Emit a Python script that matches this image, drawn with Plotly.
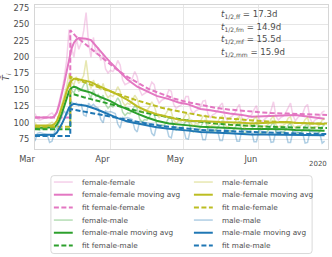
import numpy as np
import pandas as pd
import plotly.graph_objects as go

START = pd.Timestamp("2020-03-01")

# ---------------- data ----------------
series_names = ["female-female", "female-male", "male-female", "male-male"]
series_keys = ["ff", "fm", "mf", "mm"]
half_lives = [17.3, 14.9, 15.5, 15.9]
half_life_keys = ["ff", "fm", "mf", "mm"]

# daily raw values, Mar 1 .. Jun 28 (120 days)
raw_ff = [114, 106, 104, 105, 107, 109, 113,
          115, 110, 118, 132, 148, 168, 195,
          242, 215, 200, 228, 212, 222, 240,
          268, 222, 200, 230, 205, 215, 195,
          205, 182, 176, 180, 178, 184, 195,
          188, 165, 158, 160, 162, 168, 178,
          170, 150, 142, 145, 147, 152, 162,
          158, 138, 130, 134, 136, 140, 150,
          148, 128, 122, 125, 127, 131, 140,
          140, 120, 114, 118, 120, 124, 133,
          134, 114, 108, 112, 114, 118, 126,
          130, 110, 104, 108, 110, 114, 122,
          128, 108, 101, 105, 108, 112, 120,
          126, 107, 100, 104, 107, 111, 119,
          132, 110, 104, 108, 110, 115, 122,
          130, 111, 103, 108, 111, 114, 124,
          128, 107, 99, 104, 106, 110, 116,
          118]
raw_mf = [100, 94, 93, 95, 94, 96, 99,
          101, 97, 103, 115, 128, 140, 155,
          175, 162, 158, 170, 160, 165, 172,
          195, 165, 152, 165, 155, 160, 150,
          160, 145, 138, 142, 140, 146, 155,
          148, 132, 126, 130, 128, 134, 142,
          136, 122, 116, 120, 119, 124, 132,
          126, 113, 108, 112, 111, 115, 122,
          117, 104, 99, 103, 102, 106, 113,
          113, 100, 95, 99, 98, 102, 110,
          111, 98, 94, 97, 97, 100, 108,
          110, 97, 93, 96, 96, 99, 107,
          110, 97, 92, 96, 95, 99, 106,
          109, 96, 92, 95, 95, 98, 106,
          110, 97, 93, 96, 96, 99, 107,
          109, 96, 92, 95, 95, 98, 105,
          108, 95, 91, 94, 94, 97, 104,
          106]
raw_fm = [95, 90, 89, 91, 92, 93, 96,
          97, 93, 98, 108, 120, 132, 145,
          162, 150, 145, 155, 148, 150, 158,
          165, 145, 138, 150, 140, 143, 135,
          142, 128, 122, 126, 124, 130, 138,
          132, 116, 111, 115, 114, 119, 126,
          122, 106, 101, 105, 104, 109, 116,
          113, 98, 94, 97, 96, 101, 108,
          108, 93, 89, 92, 91, 96, 103,
          105, 90, 86, 89, 88, 93, 100,
          104, 89, 85, 88, 88, 92, 99,
          103, 88, 84, 87, 87, 91, 98,
          102, 87, 84, 86, 86, 90, 97,
          101, 86, 83, 85, 85, 89, 96,
          101, 86, 83, 86, 85, 89, 96,
          100, 85, 82, 85, 84, 88, 95,
          99, 84, 81, 84, 83, 87, 94,
          97]
raw_mm = [72, 84, 85, 84, 83, 82, 70,
          72, 86, 92, 100, 110, 118, 112,
          115, 132, 128, 130, 126, 128, 112,
          110, 130, 125, 128, 124, 122, 105,
          100, 118, 116, 117, 115, 114, 98,
          92, 108, 107, 108, 106, 105, 90,
          86, 102, 101, 101, 100, 99, 84,
          80, 97, 96, 96, 95, 94, 79,
          77, 94, 93, 93, 92, 91, 76,
          75, 92, 91, 91, 90, 89, 74,
          74, 91, 90, 90, 89, 88, 73,
          73, 90, 89, 89, 88, 87, 72,
          72, 89, 88, 88, 87, 86, 71,
          71, 88, 87, 87, 86, 85, 70,
          71, 88, 87, 87, 86, 85, 70,
          70, 87, 86, 86, 85, 84, 69,
          70, 87, 86, 86, 85, 84, 69,
          72]

# moving averages (day offsets from Mar 1)
ma_days = [0, 4, 7, 8, 9, 10, 11, 12, 13, 14, 15, 16, 17, 18, 19, 21, 23, 25, 27,
           29, 31, 34, 38, 42, 46, 50, 55, 59, 63, 68, 72, 76, 80, 85, 89, 94, 99,
           103, 107, 111, 115, 119]
ma_ff = [108, 108, 108, 110, 116, 128, 143, 160, 178, 198, 213, 222, 227, 229, 229,
         228, 226, 217, 208, 200, 192, 181, 166, 155, 148, 141, 136, 131, 128, 121,
         119, 116, 114, 112, 109, 110, 111, 112, 112, 110, 108, 106]
ma_mf = [96, 96, 96, 98, 103, 112, 122, 135, 148, 158, 164, 167, 167, 166, 165,
         164, 162, 158, 155, 151, 148, 143, 135, 125, 118, 113, 108, 105, 103, 103,
         102, 101, 101, 100, 99, 100, 100, 101, 100, 99, 99, 98]
ma_fm = [92, 92, 92, 93, 97, 104, 114, 126, 138, 148, 153, 155, 154, 152, 150,
         148, 146, 142, 139, 136, 133, 127, 120, 114, 108, 103, 99, 97, 96, 94,
         93, 93, 92, 91, 91, 90, 90, 90, 89, 89, 88, 88]
ma_mm = [81, 81, 81, 82, 85, 91, 98, 106, 116, 123, 127, 129, 128, 128, 127,
         126, 124, 121, 118, 115, 111, 107, 102, 99, 96, 93, 91, 89, 88, 86,
         85, 84, 84, 83, 82, 82, 82, 82, 81, 81, 81, 81]

# fitted curves (day offsets from Mar 1)
fit_days = [0, 14.5, 14.5, 17, 20, 23, 26, 30, 34, 38, 42, 47, 52, 57, 62, 68, 74,
            80, 88, 96, 104, 112, 120]
fit_ff = [108, 108, 241, 231, 222, 213, 204, 191, 180, 170, 161, 151, 144, 137, 132,
          127, 123, 120, 117, 115, 114, 113, 112]
fit_mf = [94, 94, 170, 166, 162, 158, 154, 149, 144, 139, 134, 128, 123, 119, 115,
          111, 108, 106, 104, 102, 100, 99, 99]
fit_fm = [90, 90, 145, 142, 139, 136, 133, 129, 125, 121, 118, 114, 110, 107, 104,
          101, 99, 97, 95, 94, 93, 92, 92]
fit_mm = [80, 80, 121, 119, 117, 115, 113, 110, 107, 104, 101, 98, 95, 93, 91,
          89, 88, 87, 86, 85, 84, 83, 83]

y_ticks = [75, 100, 125, 150, 175, 200, 225, 250, 275]
x_ticks = ["2020-03-01", "2020-04-01", "2020-05-01", "2020-06-01"]
x_tick_labels = ["Mar", "Apr", "May", "Jun"]

# ---------------- styling ----------------
colors = {"ff": "#e377c2", "fm": "#2ca02c", "mf": "#bcbd22", "mm": "#1f77b4"}
raw = {"ff": raw_ff, "fm": raw_fm, "mf": raw_mf, "mm": raw_mm}
ma = {"ff": ma_ff, "fm": ma_fm, "mf": ma_mf, "mm": ma_mm}
fit = {"ff": fit_ff, "fm": fit_fm, "mf": fit_mf, "mm": fit_mm}

RAW_OP = 0.35
DASH = "5px,2.5px"
FONT = "DejaVu Sans"
TXT = "#4d4d4d"

W, H = 332, 257
ML, MR, MT, MB = 34, 3, 3, 108
PW, PH = W - ML - MR, H - MT - MB


def px(x):
    return (x - ML) / PW


def py(y):
    return (H - MB - y) / PH


raw_dates = START + pd.to_timedelta(np.arange(len(raw_ff)), unit="D")
ma_dates = START + pd.to_timedelta(ma_days, unit="D")
fit_dates = START + pd.to_timedelta(fit_days, unit="D")

fig = go.Figure()
for k, name in zip(series_keys, series_names):
    c = colors[k]
    fig.add_trace(go.Scatter(x=raw_dates, y=raw[k], mode="lines", name=name,
                             line=dict(color=c, width=1.5), opacity=RAW_OP,
                             showlegend=False))
    fig.add_trace(go.Scatter(x=ma_dates, y=ma[k], mode="lines",
                             name=name + " moving avg",
                             line=dict(color=c, width=2), showlegend=False))
    fig.add_trace(go.Scatter(x=fit_dates, y=fit[k], mode="lines",
                             name="fit " + name,
                             line=dict(color=c, width=2, dash=DASH),
                             showlegend=False))

# half-life text
annotations = []
for i, (hk, hl) in enumerate(zip(half_life_keys, half_lives)):
    annotations.append(dict(
        xref="paper", yref="paper", x=px(219), y=py(13 + 12.7 * i),
        xanchor="left", yanchor="middle", showarrow=False,
        text=f"<i>t</i><sub>1/2,{hk}</sub> = {hl}d",
        font=dict(family=FONT, size=8.6, color=TXT)))

annotations.append(dict(xref="paper", yref="paper", x=px(330), y=py(164),
                        xanchor="right", yanchor="middle", showarrow=False,
                        text="2020", font=dict(family=FONT, size=7, color=TXT)))

# manual legend (two columns, matplotlib style)
shapes = []
x0, y0, x1, y1, r = 50, 176, 313, 255, 3
path = (f"M {px(x0 + r)} {py(y0)} L {px(x1 - r)} {py(y0)} "
        f"Q {px(x1)} {py(y0)} {px(x1)} {py(y0 + r)} L {px(x1)} {py(y1 - r)} "
        f"Q {px(x1)} {py(y1)} {px(x1 - r)} {py(y1)} L {px(x0 + r)} {py(y1)} "
        f"Q {px(x0)} {py(y1)} {px(x0)} {py(y1 - r)} L {px(x0)} {py(y0 + r)} "
        f"Q {px(x0)} {py(y0)} {px(x0 + r)} {py(y0)} Z")
shapes.append(dict(type="path", xref="paper", yref="paper", path=path,
                   line=dict(color="#d9d9d9", width=1), fillcolor="white",
                   layer="above"))

col_x = [(53, 72, 79), (194, 213, 220)]
legend_cols = [["ff", "fm"], ["mf", "mm"]]
for ci, keys in enumerate(legend_cols):
    lx0, lx1, tx = col_x[ci]
    row = 0
    for k in keys:
        name = series_names[series_keys.index(k)]
        c = colors[k]
        entries = [(name, dict(color=c, width=1.5), RAW_OP),
                   (name + " moving avg", dict(color=c, width=2), 1.0),
                   ("fit " + name, dict(color=c, width=2, dash=DASH), 1.0)]
        for label, ln, op in entries:
            yy = 182.5 + 12.85 * row
            shapes.append(dict(type="line", xref="paper", yref="paper",
                               x0=px(lx0), x1=px(lx1), y0=py(yy), y1=py(yy),
                               line=ln, opacity=op, layer="above"))
            annotations.append(dict(xref="paper", yref="paper", x=px(tx), y=py(yy),
                                    xanchor="left", yanchor="middle",
                                    showarrow=False, text=label,
                                    font=dict(family=FONT, size=7.3, color=TXT)))
            row += 1

fig.update_layout(
    width=W, height=H,
    margin=dict(l=ML, r=MR, t=MT, b=MB),
    paper_bgcolor="white", plot_bgcolor="white",
    font=dict(family=FONT, color=TXT),
    showlegend=False,
    annotations=annotations,
    shapes=shapes,
)
fig.update_xaxes(
    range=[START, START + pd.Timedelta(days=120.4)],
    tickvals=pd.to_datetime(x_ticks), ticktext=x_tick_labels,
    showgrid=True, gridcolor="#e6e6e6", gridwidth=1,
    showline=True, linecolor="#d6d6d6", mirror=True,
    ticks="", ticklabelshift=-8, ticklabelstandoff=2,
    tickfont=dict(family=FONT, size=8.3, color=TXT),
    zeroline=False,
)
fig.update_yaxes(
    range=[60, 279.5], tickvals=y_ticks,
    showgrid=True, gridcolor="#e6e6e6", gridwidth=1,
    showline=True, linecolor="#d6d6d6", mirror=True,
    ticks="", ticklabelstandoff=3,
    tickfont=dict(family=FONT, size=8.3, color=TXT),
    title=dict(text="<i>T̄</i><sub><i>i</i></sub>", standoff=4,
               font=dict(family=FONT, size=9, color=TXT)),
    zeroline=False,
)

fig.write_html("out.html",
               config={"displayModeBar": False},
               post_script="document.body.style.margin='0';"
                           "document.body.style.overflow='hidden';")
